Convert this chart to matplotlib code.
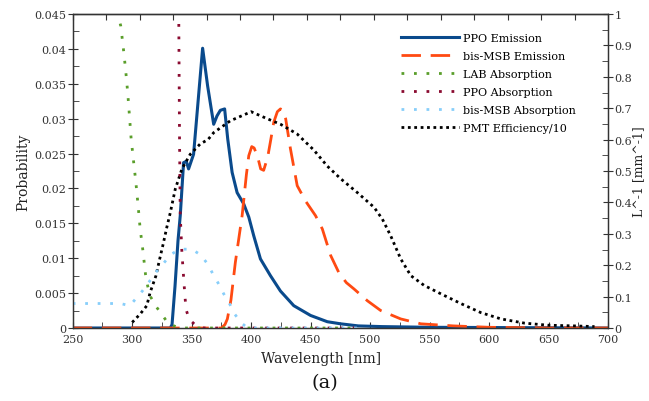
import numpy as np
import matplotlib
matplotlib.use('Agg')
import matplotlib.pyplot as plt
from matplotlib.ticker import MultipleLocator, FuncFormatter

plt.rcParams['font.family'] = 'DejaVu Serif'

# emission spectra, left axis [probability]
ppo_em_x = [250, 332, 333.5, 336, 338.5, 340.4, 343.2, 345.5, 347.4, 351.6, 355.8, 359.2, 363.4,
            368.5, 371.3, 374.1, 377.7, 380.3, 384, 388.2, 393.7, 398, 402.2, 407.8, 416.2,
            424.6, 435.8, 449.9, 464, 475.2, 490, 510, 550, 700]
ppo_em_y = [0, 0, 0.0005, 0.006, 0.0125, 0.0161, 0.0237, 0.0239, 0.0228, 0.0249, 0.0333, 0.0401, 0.0347,
            0.0292, 0.0304, 0.0312, 0.0314, 0.0271, 0.0223, 0.0194, 0.0178, 0.0159, 0.0132, 0.0099, 0.0075,
            0.0053, 0.0032, 0.0018, 0.0009, 0.0006, 0.0003, 0.0002, 0.0001, 0]

msb_em_x = [250, 330, 375, 378, 380, 383, 386.7, 392.4, 396, 398, 400.5, 402.5, 405.5, 408, 410.5,
            413.9, 416.5, 419, 422, 424.6, 427, 429, 433, 438.7, 445.7, 454.1, 459.8, 466.8, 473.8,
            480, 486.4, 497.7, 508.9, 525.7, 542.6, 570, 600, 650, 700]
msb_em_y = [0, 0, 0, 0.0005, 0.0013, 0.004, 0.0094, 0.0161, 0.022, 0.0247, 0.026, 0.0258, 0.0245, 0.0228,
            0.0226, 0.0245, 0.027, 0.0295, 0.031, 0.0314, 0.0312, 0.0300, 0.0257, 0.0204, 0.0182, 0.0161,
            0.0142, 0.0104, 0.0079, 0.0065, 0.0056, 0.0039, 0.0025, 0.0013, 0.0006, 0.0003, 0.0001, 0, 0]

pmt_x = [300, 306.7, 312.3, 315.1, 320, 323, 326, 329.2, 332, 336.2, 341.8, 348.8, 357.3, 363.7, 368.5,
         382.5, 400, 413.4, 424.7, 438.7, 452.7, 464, 475.2, 489.3, 503.3, 510.3, 517.3, 525.7, 534.2,
         545.4, 559.4, 576.3, 593.1, 610, 629.6, 649.3, 671.7, 688.6]
pmt_y = [0.0008, 0.002, 0.0032, 0.0051, 0.0075, 0.0098, 0.012, 0.0145, 0.0165, 0.0199, 0.0228, 0.0249,
         0.0264, 0.0270, 0.028, 0.0297, 0.031, 0.030, 0.0292, 0.0278, 0.0255, 0.0232, 0.0214, 0.0194,
         0.0173, 0.0156, 0.0132, 0.0099, 0.0075, 0.0061, 0.0049, 0.0035, 0.0022, 0.0013, 0.0007, 0.0004,
         0.0003, 0.0002]

# absorption, right axis [mm^-1]
lab_abs_x = [285, 288, 290.4, 292.6, 294.6, 296.3, 297.7, 299.1, 301.1, 303.1, 305, 306.7, 309, 311.2,
             312.9, 315.1, 319.6, 325.2, 330.5, 340, 490]
lab_abs_y = [1.1, 0.998, 0.962, 0.89, 0.818, 0.747, 0.676, 0.604, 0.533, 0.464, 0.389, 0.316, 0.247, 0.171,
             0.136, 0.102, 0.071, 0.042, 0.013, 0, 0]

ppo_abs_x = [338.8, 339.3, 339.8, 340.4, 341.8, 343.8, 345.2, 348, 354.5, 360, 490]
ppo_abs_y = [1.2, 0.9, 0.6, 0.36, 0.24, 0.13, 0.06, 0.027, 0.005, 0, 0]

msb_abs_x = [250, 290, 298, 303, 308.6, 315, 320, 326, 332, 340, 350, 357.5, 363.4, 368, 372.7, 376.9,
             382, 386.2, 391.8, 397, 490]
msb_abs_y = [0.078, 0.078, 0.071, 0.093, 0.118, 0.151, 0.178, 0.204, 0.233, 0.251, 0.251, 0.233, 0.204,
             0.171, 0.14, 0.109, 0.076, 0.044, 0.016, 0, 0]

fig = plt.figure(figsize=(6.49, 4.02), dpi=100)
ax = fig.add_axes([0.112, 0.1816, 0.825, 0.781])
ax2 = ax.twinx()

l1, = ax.plot(ppo_em_x, ppo_em_y, color='#0a4a8c', lw=2.2, label='PPO Emission')
l2, = ax.plot(msb_em_x, msb_em_y, color='#ff4a12', lw=2.0, ls=(0, (7, 3.5)), label='bis-MSB Emission')
l6, = ax.plot(pmt_x, pmt_y, color='black', lw=2.0, ls=(0, (1, 1.3)), label='PMT Efficiency/10')

l3, = ax2.plot(lab_abs_x, lab_abs_y, color='#5a9e2a', lw=2.0, ls=(0, (1, 3.5)), label='LAB Absorption')
l4, = ax2.plot(ppo_abs_x, ppo_abs_y, color='#8a0a30', lw=2.0, ls=(0, (1, 3.5)), label='PPO Absorption')
l5, = ax2.plot(msb_abs_x, msb_abs_y, color='#87cefa', lw=2.0, ls=(0, (1, 3.5)), label='bis-MSB Absorption')

ax.set_xlim(250, 700)
ax.set_ylim(0, 0.045)
ax2.set_ylim(0, 1)

fmt = FuncFormatter(lambda v, p: '%g' % round(v, 4))
ax.xaxis.set_major_locator(MultipleLocator(50))
ax.xaxis.set_minor_locator(MultipleLocator(25))
ax.yaxis.set_major_locator(MultipleLocator(0.005))
ax.yaxis.set_minor_locator(MultipleLocator(0.0025))
ax.yaxis.set_major_formatter(fmt)
ax2.yaxis.set_major_locator(MultipleLocator(0.1))
ax2.yaxis.set_minor_locator(MultipleLocator(0.05))
ax2.yaxis.set_major_formatter(fmt)

tc = '#333333'
ax.tick_params(axis='x', which='both', direction='in', length=4, labelsize=8, colors=tc, pad=4)
ax.tick_params(axis='y', which='major', direction='inout', length=7, labelsize=8, colors=tc, pad=1)
ax.tick_params(axis='y', which='minor', direction='in', length=4, colors=tc)
ax2.tick_params(axis='y', which='major', direction='inout', length=7, labelsize=8, colors=tc, pad=1)
ax2.tick_params(axis='y', which='minor', direction='in', length=4, colors=tc)

top = ax.secondary_xaxis('top')
top.set_xticks(np.linspace(250, 700, 17))
top.tick_params(direction='in', length=4, labeltop=False, colors=tc)

for a in (ax, ax2, top):
    for s in a.spines.values():
        s.set_color(tc)
        s.set_linewidth(0.9)

ax.set_xlabel('Wavelength [nm]', fontsize=10, color='#222222')
ax.xaxis.set_label_coords(0.4635, -0.072)
ax.set_ylabel('Probability', fontsize=10, color='#222222')
ax.yaxis.set_label_coords(-0.08, 0.5)
ax2.set_ylabel('L^-1 [mm^-1]', fontsize=9, color='#222222')
ax2.yaxis.set_label_coords(1.045, 0.5)

ax2.legend(handles=[l1, l2, l3, l4, l5, l6], loc='upper left', bbox_to_anchor=(0.605, 0.955),
           frameon=False, fontsize=8, handlelength=5.2, handletextpad=0.4, labelspacing=0.73,
           borderaxespad=0)

fig.text(0.5, 0.047, '(a)', ha='center', va='center', fontsize=14, color='#111111')

plt.savefig('out.png', dpi=100)
